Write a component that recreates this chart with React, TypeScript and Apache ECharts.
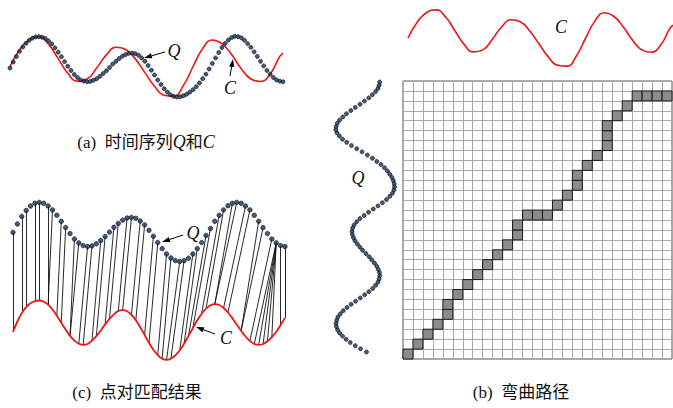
import React, { useEffect, useRef } from 'react';
import * as echarts from 'echarts';

// Q sequence (panels a and b), one value per time step
const qA = [
  -0.05, 0.15, 0.33, 0.5, 0.64, 0.76, 0.86, 0.93, 0.97, 0.98,
  0.96, 0.92, 0.84, 0.74, 0.61, 0.47, 0.32, 0.16, 0.01, -0.13,
  -0.26, -0.36, -0.44, -0.48, -0.5, -0.49, -0.45, -0.4, -0.32, -0.23,
  -0.14, -0.03, 0.08, 0.17, 0.26, 0.34, 0.39, 0.43, 0.44, 0.42,
  0.37, 0.28, 0.17, 0.03, -0.12, -0.28, -0.44, -0.59, -0.73, -0.84,
  -0.93, -0.98, -1.0, -0.99, -0.96, -0.91, -0.84, -0.76, -0.66, -0.54,
  -0.4, -0.25, -0.08, 0.1, 0.28, 0.46, 0.62, 0.76, 0.87, 0.95,
  0.99, 0.98, 0.94, 0.86, 0.75, 0.63, 0.48, 0.33, 0.17, 0.02,
  -0.13, -0.25, -0.36, -0.44, -0.48, -0.5,
];

// C sequence (panels a and b): time step and value
const cATime = [0, 3, 6, 9, 12, 15, 18, 21, 24, 27, 30, 33, 36, 39, 42, 45, 48, 51, 54, 57, 60, 63, 66, 69, 72, 75, 78, 81, 84, 85];
const cA = [0.0, 0.55, 0.88, 0.97, 0.73, 0.26, -0.22, -0.48, -0.41, -0.05, 0.38, 0.63, 0.56, 0.25, -0.2, -0.65, -0.94, -0.97, -0.62, 0.0, 0.59, 0.87, 0.75, 0.39, -0.07, -0.41, -0.49, -0.25, 0.33, 0.44];

// Panel (c): Q and C sampled at 63 steps
const qC = [
  -0.03, 0.25, 0.5, 0.7, 0.85, 0.94, 0.97,
  0.94, 0.85, 0.72, 0.54, 0.34, 0.13, -0.07, -0.25, -0.38, -0.47, -0.5,
  -0.48, -0.41, -0.3, -0.17, -0.02, 0.14, 0.27, 0.38, 0.45, 0.47,
  0.44, 0.35, 0.22, 0.04, -0.16, -0.37, -0.57, -0.75, -0.88, -0.97, -1.0,
  -0.97, -0.89, -0.75, -0.57, -0.37, -0.13, 0.1, 0.34, 0.54, 0.72, 0.86, 0.94, 0.97,
  0.94, 0.85, 0.72, 0.54, 0.34, 0.13, -0.07, -0.25, -0.38, -0.47, -0.5,
];
const cC = [
  -0.05, 0.3, 0.58, 0.78, 0.91, 0.98, 1.0,
  0.96, 0.86, 0.7, 0.49, 0.26, 0.03, -0.18, -0.34, -0.44, -0.48,
  -0.45, -0.34, -0.19, 0.0, 0.2, 0.39, 0.54, 0.65, 0.68,
  0.64, 0.52, 0.34, 0.11, -0.15, -0.41, -0.64, -0.82, -0.94, -0.98,
  -0.94, -0.83, -0.66, -0.44, -0.18, 0.08, 0.34, 0.56, 0.73, 0.84, 0.88,
  0.85, 0.75, 0.6, 0.41, 0.2, -0.01, -0.2, -0.35, -0.45, -0.48,
  -0.45, -0.36, -0.22, -0.04, 0.18, 0.42,
];
// matched point pairs (index in qC -> index in cC)
const matchQ = [0, 2, 3, 5, 6, 8, 9, 11, 12, 14, 15, 17, 18, 20, 21, 23, 24, 26, 27, 29, 30, 32, 33, 35, 36, 38, 39, 41, 42, 44, 45, 47, 48, 50, 51, 53, 54, 56, 57, 59, 60, 60, 60, 60, 60, 61, 62];
const matchC = [0, 2, 3, 5, 6, 8, 8, 10, 11, 13, 13, 15, 16, 18, 19, 21, 22, 24, 25, 27, 28, 30, 31, 33, 34, 35, 36, 38, 39, 40, 41, 43, 44, 46, 46, 48, 49, 52, 52, 54, 55, 56, 57, 58, 59, 61, 62];
const Q_OFFSET = 3.3;

// Panel (b): warping path cells (column = C index, row = Q index)
const pathCol = [0, 1, 2, 3, 4, 4, 5, 6, 7, 8, 9, 10, 11, 11, 12, 13, 14, 15, 16, 17, 17, 18, 19, 20, 20, 20, 21, 22, 23, 24, 25, 26];
const pathRow = [0, 1, 2, 3, 4, 5, 6, 7, 8, 9, 10, 11, 12, 13, 14, 14, 14, 15, 16, 17, 18, 19, 20, 21, 22, 23, 24, 25, 26, 26, 26, 26];
const GRID_COLS = 27;
const GRID_ROWS = 28;

const RED = '#ee1414';
const DOT = { color: '#1c3556', borderColor: '#05101c', borderWidth: 0.8 };
const SERIF = "'Liberation Serif', 'Times New Roman', serif";
const CAPTION_FONT = "'Liberation Serif', 'Noto Sans CJK SC', serif";

function arrow(x1: number, y1: number, x2: number, y2: number) {
  const a = Math.atan2(y2 - y1, x2 - x1);
  const L = 8, W = 2.6;
  const bx = x2 - L * Math.cos(a), by = y2 - L * Math.sin(a);
  const px = -Math.sin(a) * W, py = Math.cos(a) * W;
  return [
    { type: 'line', shape: { x1, y1, x2: bx, y2: by }, style: { stroke: '#000', lineWidth: 1 } },
    { type: 'polygon', shape: { points: [[x2, y2], [bx + px, by + py], [bx - px, by - py]] }, style: { fill: '#000' } },
  ];
}

function label(text: string, x: number, y: number) {
  return {
    type: 'text', x, y,
    style: { text, fontFamily: SERIF, fontStyle: 'italic', fontSize: 18, fill: '#111', align: 'center', verticalAlign: 'middle' },
  };
}

function caption(text: string, x: number, y: number) {
  return {
    type: 'text', x, y,
    style: {
      text, fontFamily: CAPTION_FONT, fontSize: 17, fill: '#111', align: 'center', verticalAlign: 'middle',
      rich: { i: { fontFamily: SERIF, fontStyle: 'italic', fontSize: 18, fill: '#111' } },
    },
  };
}

const hidden = (gridIndex: number, min: number, max: number, extra: any = {}) => ({
  type: 'value', gridIndex, min, max, show: false, ...extra,
});

export default function App() {
  const ref = useRef<HTMLDivElement>(null);
  useEffect(() => {
    const chart = echarts.init(ref.current!, null, { renderer: 'svg' });
    const option: any = {
      animation: false,
      backgroundColor: '#fff',
      grid: [
        { left: 10, top: 20.75, width: 273, height: 91.5 },
        { left: 13, top: 186.5, width: 272, height: 189 },
        { left: 403, top: 81, width: 269, height: 278, show: true, borderColor: '#555', borderWidth: 1, backgroundColor: 'transparent' },
        { left: 408, top: 3.2, width: 272, height: 69.6 },
        { left: 320.75, top: 82, width: 88.5, height: 270 },
      ],
      xAxis: [
        hidden(0, 0, 85),
        hidden(1, 0, 62),
        {
          type: 'value', gridIndex: 2, min: 0, max: GRID_COLS, interval: 1,
          axisLine: { show: false }, axisTick: { show: false }, axisLabel: { show: false },
          splitLine: { show: true, lineStyle: { color: '#a8a8a8', width: 1 } },
        },
        hidden(3, 0, 85),
        hidden(4, -1.5, 1.5, { inverse: true }),
      ],
      yAxis: [
        hidden(0, -1.5, 1.5),
        hidden(1, -1.5, 4.8),
        {
          type: 'value', gridIndex: 2, min: 0, max: GRID_ROWS, interval: 1,
          axisLine: { show: false }, axisTick: { show: false }, axisLabel: { show: false },
          splitLine: { show: true, lineStyle: { color: '#a8a8a8', width: 1 } },
        },
        hidden(3, -1.2, 1.2),
        hidden(4, 0, 85),
      ],
      series: [
        // (a)
        {
          type: 'line', xAxisIndex: 0, yAxisIndex: 0, smooth: 0.5, showSymbol: false,
          data: cATime.map((t, k) => [t, cA[k]]), lineStyle: { color: RED, width: 1.6 }, z: 2,
        },
        {
          type: 'scatter', xAxisIndex: 0, yAxisIndex: 0, symbolSize: 4,
          data: qA.map((v, i) => [i, v]), itemStyle: DOT, z: 3,
        },
        // (c)
        {
          type: 'lines', coordinateSystem: 'cartesian2d', xAxisIndex: 1, yAxisIndex: 1,
          data: matchQ.map((q, k) => ({ coords: [[q, qC[q] + Q_OFFSET], [matchC[k], cC[matchC[k]]]] })),
          lineStyle: { color: '#111', width: 0.9, opacity: 1 }, z: 1,
        },
        {
          type: 'line', xAxisIndex: 1, yAxisIndex: 1, smooth: 0.4, showSymbol: false,
          data: cC.map((v, i) => [i, v]), lineStyle: { color: RED, width: 1.8 }, z: 2,
        },
        {
          type: 'scatter', xAxisIndex: 1, yAxisIndex: 1, symbolSize: 4.5,
          data: qC.map((v, i) => [i, v + Q_OFFSET]), itemStyle: DOT, z: 3,
        },
        // (b) warping matrix path
        {
          type: 'custom', xAxisIndex: 2, yAxisIndex: 2,
          data: pathCol.map((c, k) => [c, pathRow[k]]),
          renderItem: (params: any, api: any) => {
            const p = api.coord([api.value(0), api.value(1) + 1]);
            const s = api.size([1, 1]);
            return {
              type: 'rect',
              shape: { x: p[0], y: p[1], width: s[0], height: s[1] },
              style: { fill: '#8c8c8c', stroke: '#1a1a1a', lineWidth: 1 },
            };
          },
          z: 3,
        },
        {
          type: 'line', xAxisIndex: 3, yAxisIndex: 3, smooth: 0.5, showSymbol: false,
          data: cATime.map((t, k) => [t, cA[k]]), lineStyle: { color: RED, width: 1.6 },
        },
        {
          type: 'scatter', xAxisIndex: 4, yAxisIndex: 4, symbolSize: 4,
          data: qA.map((v, i) => [v, i]), itemStyle: DOT,
        },
      ],
      graphic: [
        label('Q', 174, 51),
        label('C', 230, 88),
        ...arrow(165, 52, 144, 58),
        ...arrow(230, 76, 233, 59),
        label('Q', 193, 233),
        label('C', 226, 338),
        ...arrow(183, 235, 162, 242),
        ...arrow(215, 334, 196, 327),
        label('C', 561, 27),
        label('Q', 358, 178),
        caption('(a)  时间序列{i|Q}和{i|C}', 146, 142),
        caption('(c)  点对匹配结果', 137, 392),
        caption('(b)  弯曲路径', 521, 392),
      ],
    };
    chart.setOption(option);
    return () => chart.dispose();
  }, []);
  return (
    <div
      ref={ref}
      style={{ position: 'fixed', left: 0, top: 0, width: 673, height: 408, background: '#fff' }}
    />
  );
}
